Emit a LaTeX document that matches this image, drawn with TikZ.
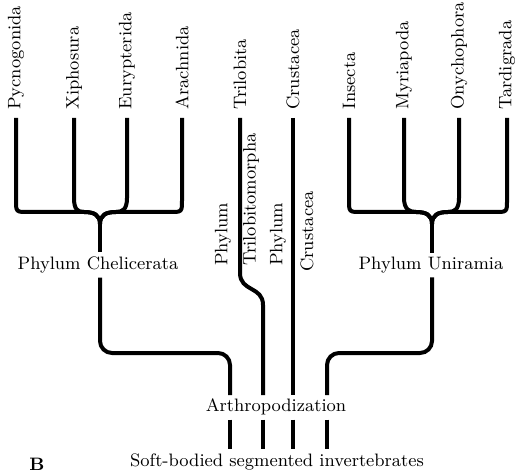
\documentclass[tikz,border=0pt]{standalone}
\usetikzlibrary{calc}

\tikzset{
  every node/.style={font=\fontsize{9}{11}\selectfont},
  taxon/.style={rotate=90, anchor=west, inner xsep=4pt, inner ysep=0pt},
  phylumtext/.style={rotate=90, anchor=west, inner sep=0pt},
  grade/.style={inner sep=2pt},
  branch/.style={line width=2pt},
  elbow/.style={branch, rounded corners=6pt},
}

\begin{document}
\begin{tikzpicture}[x=0.5pt, y=-0.5pt]
    \clip (0,0) rectangle (517,474);

    % terminal taxa
    \foreach \tx/\x in {Pycnogonida/16, Xiphosura/74, Eurypterida/127, Arachnida/182,
                        Trilobita/240, Crustacea/293,
                        Insecta/349, Myriapoda/404, Onychophora/459, Tardigrada/507} {
        \node[taxon] (\tx) at (\x,118) {\tx};
    }

    % phyla and grades
    \node[grade] (chel) at (98,265) {Phylum Chelicerata};
    \node[grade] (uni) at (431,265) {Phylum Uniramia};
    \node[phylumtext] (tri-a) at (223,266) {Phylum};
    \node[phylumtext] (tri-b) at (251,266) {Trilobitomorpha};
    \node[phylumtext] (cru-a) at (278,266) {Phylum};
    \node[phylumtext] (cru-b) at (307,272) {Crustacea};
    \node[grade] (arth) at (276,407) {Arthropodization};
    \node[grade] (soft) at (277,462) {Soft-bodied segmented invertebrates};
    \node[font=\fontsize{9}{11}\selectfont\bfseries] (panel) at (37,464) {B};

    \coordinate (chel-fork) at (100,224);
    \coordinate (uni-fork) at (432,224);
    \foreach \i/\x in {1/230, 2/263, 3/293, 4/327} {
        \coordinate (arth-\i) at (\x,395);
    }

    % draw Chelicerata
    \draw[branch] (Pycnogonida.west) -- (16,200) .. controls (16,212) .. (28,212) -- (84,212)
        .. controls (94,212) and (100,215) .. (chel-fork);
    \draw[branch] (Xiphosura.west) -- (74,198) .. controls (74,210) and (78,212) .. (84,212)
        .. controls (94,212) and (100,215) .. (chel-fork);
    \draw[branch] (Eurypterida.west) -- (127,198) .. controls (127,210) and (122,212) .. (116,212)
        .. controls (106,212) and (100,215) .. (chel-fork);
    \draw[branch] (Arachnida.west) -- (182,200) .. controls (182,212) .. (170,212) -- (116,212)
        .. controls (106,212) and (100,215) .. (chel-fork);
    \draw[branch] (chel-fork) -- (chel-fork |- chel.north);

    % draw Uniramia
    \draw[branch] (Insecta.west) -- (349,200) .. controls (349,212) .. (361,212) -- (416,212)
        .. controls (426,212) and (432,215) .. (uni-fork);
    \draw[branch] (Myriapoda.west) -- (404,198) .. controls (404,210) and (410,212) .. (416,212)
        .. controls (426,212) and (432,215) .. (uni-fork);
    \draw[branch] (Onychophora.west) -- (459,198) .. controls (459,210) and (454,212) .. (448,212)
        .. controls (438,212) and (432,215) .. (uni-fork);
    \draw[branch] (Tardigrada.west) -- (507,200) .. controls (507,212) .. (495,212) -- (448,212)
        .. controls (438,212) and (432,215) .. (uni-fork);
    \draw[branch] (uni-fork) -- (uni-fork |- uni.north);

    % draw lineages down to Arthropodization
    \draw[elbow] (chel-fork |- chel.south) -- (100,353) -- (230,353) -- (arth-1);
    \draw[branch] (Trilobita.west) -- (240,273) .. controls (240,292) and (263,286) .. (263,305) -- (arth-2);
    \draw[branch] (Crustacea.west) -- (arth-3);
    \draw[elbow] (uni-fork |- uni.south) -- (432,353) -- (327,353) -- (arth-4);

    \foreach \i in {1,...,4} {
        \draw[branch] (arth-\i |- arth.south) -- (arth-\i |- soft.north);
    }
\end{tikzpicture}
\end{document}
